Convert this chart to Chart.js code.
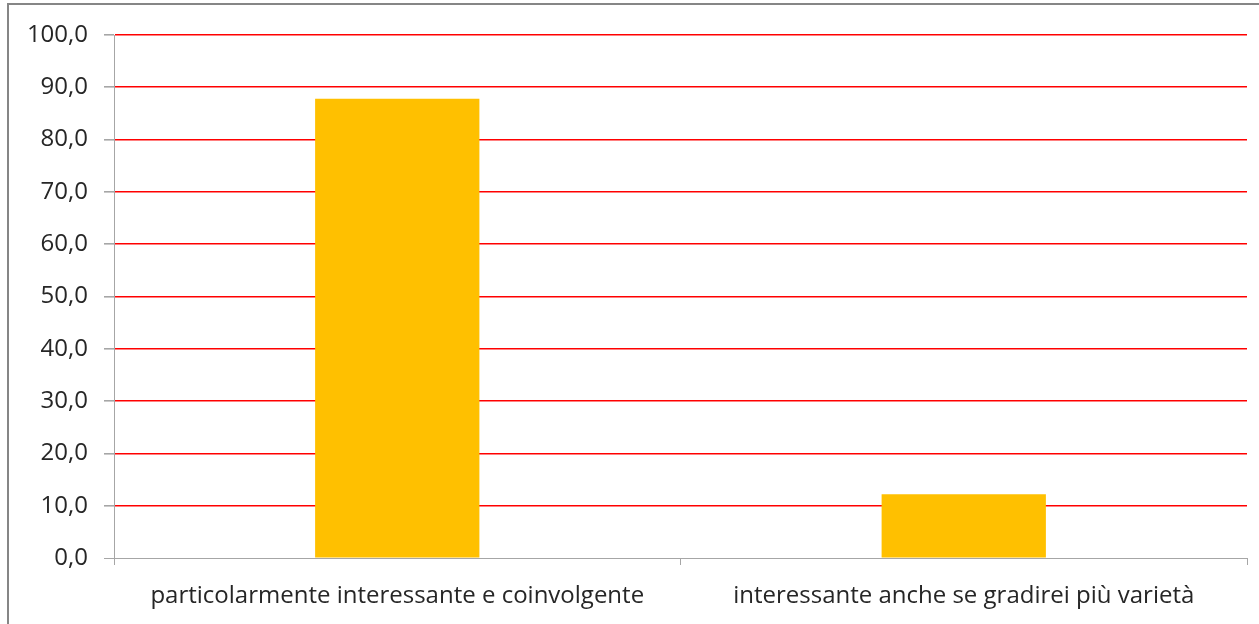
<!DOCTYPE html>
<html>
<head>
<meta charset="utf-8">
<script src="https://cdn.jsdelivr.net/npm/chart.js@4.4.1/dist/chart.umd.min.js"></script>
<style>
  html, body { margin: 0; padding: 0; background: #fff; overflow: hidden; }
  #frame { position: absolute; left: 7px; top: 3px; width: 1262px; height: 640px; border: 2px solid #868686; box-sizing: border-box; }
  #wrap { position: absolute; left: 0; top: 0; width: 1259px; height: 624px; }
</style>
</head>
<body>
<div id="frame"></div>
<div id="wrap"><canvas id="bar"></canvas></div>
<script>
const categories = ['particolarmente interessante e coinvolgente', 'interessante anche se gradirei più varietà'];
const values = [87.8, 12.2];
const yTicks = [0, 10, 20, 30, 40, 50, 60, 70, 80, 90, 100];

const bar = document.getElementById('bar');

new Chart(bar, {
  type: 'bar',
  data: {
    labels: categories,
    datasets: [{
      data: values,
      backgroundColor: '#FFC000',
      barPercentage: 0.29,
      categoryPercentage: 1
    }]
  },
  options: {
    responsive: true,
    maintainAspectRatio: false,
    animation: false,
    layout: { padding: { top: 35, right: 12, left: 0, bottom: 0 } },
    plugins: { legend: { display: false }, tooltip: { enabled: false } },
    scales: {
      x: {
        afterFit: (s) => { s.height = 66; },
        grid: { drawOnChartArea: false, color: '#A6A6A6', tickLength: 7 },
        border: { color: '#A6A6A6' },
        ticks: { color: '#262626', padding: 17, font: { family: 'Open Sans', size: 24 } }
      },
      y: {
        min: yTicks[0],
        max: yTicks[yTicks.length - 1],
        afterFit: (s) => { s.width = 114; },
        grid: {
          color: (c) => c.index === 0 ? '#A6A6A6' : '#FF0000',
          lineWidth: (c) => c.index === 0 ? 1 : 1.6,
          tickColor: '#A6A6A6',
          tickLength: 10
        },
        border: { color: '#A6A6A6' },
        ticks: {
          stepSize: 10,
          color: '#262626',
          padding: 16,
          font: { family: 'Open Sans', size: 24 },
          callback: (v) => v.toFixed(1).replace('.', ',')
        }
      }
    }
  }
});
</script>
</body>
</html>
